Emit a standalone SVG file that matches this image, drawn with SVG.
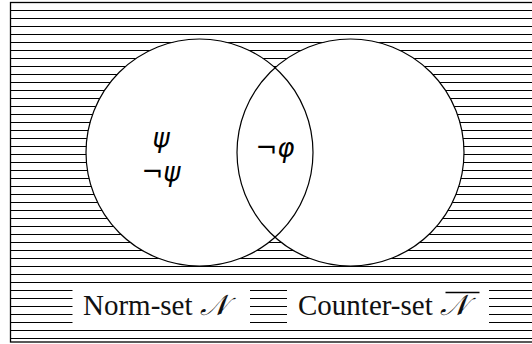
<svg xmlns="http://www.w3.org/2000/svg" width="532" height="344" viewBox="0 0 532 344">
<style>
.hatch line{stroke:#000;stroke-width:1}
.set{fill:#fff;stroke:none}
.ring{fill:none;stroke:#000;stroke-width:1.2}
.lab{font-family:"Liberation Serif","DejaVu Serif",serif;font-size:29px;fill:#111}
.sym{font-family:"DejaVu Sans","Noto Sans",sans-serif;font-style:italic;font-size:26px;fill:#000}
.box{fill:#fff;stroke:none}
</style>
<rect x="0" y="0" width="532" height="344" fill="#fff"/>
<g id="hatching" class="hatch">
<line x1="10" y1="2.5" x2="532" y2="2.5"/><line x1="10" y1="10.5" x2="532" y2="10.5"/><line x1="10" y1="18.5" x2="532" y2="18.5"/><line x1="10" y1="26.5" x2="532" y2="26.5"/><line x1="10" y1="34.5" x2="532" y2="34.5"/><line x1="10" y1="42.5" x2="532" y2="42.5"/><line x1="10" y1="50.5" x2="532" y2="50.5"/><line x1="10" y1="58.5" x2="532" y2="58.5"/><line x1="10" y1="66.5" x2="532" y2="66.5"/><line x1="10" y1="74.5" x2="532" y2="74.5"/><line x1="10" y1="82.5" x2="532" y2="82.5"/><line x1="10" y1="90.5" x2="532" y2="90.5"/><line x1="10" y1="98.5" x2="532" y2="98.5"/><line x1="10" y1="106.5" x2="532" y2="106.5"/><line x1="10" y1="114.5" x2="532" y2="114.5"/><line x1="10" y1="122.5" x2="532" y2="122.5"/><line x1="10" y1="130.5" x2="532" y2="130.5"/><line x1="10" y1="138.5" x2="532" y2="138.5"/><line x1="10" y1="146.5" x2="532" y2="146.5"/><line x1="10" y1="154.5" x2="532" y2="154.5"/><line x1="10" y1="162.5" x2="532" y2="162.5"/><line x1="10" y1="170.5" x2="532" y2="170.5"/><line x1="10" y1="178.5" x2="532" y2="178.5"/><line x1="10" y1="186.5" x2="532" y2="186.5"/><line x1="10" y1="194.5" x2="532" y2="194.5"/><line x1="10" y1="202.5" x2="532" y2="202.5"/><line x1="10" y1="210.5" x2="532" y2="210.5"/><line x1="10" y1="218.5" x2="532" y2="218.5"/><line x1="10" y1="226.5" x2="532" y2="226.5"/><line x1="10" y1="234.5" x2="532" y2="234.5"/><line x1="10" y1="242.5" x2="532" y2="242.5"/><line x1="10" y1="250.5" x2="532" y2="250.5"/><line x1="10" y1="258.5" x2="532" y2="258.5"/><line x1="10" y1="266.5" x2="532" y2="266.5"/><line x1="10" y1="274.5" x2="532" y2="274.5"/><line x1="10" y1="282.5" x2="532" y2="282.5"/><line x1="10" y1="290.5" x2="532" y2="290.5"/><line x1="10" y1="298.5" x2="532" y2="298.5"/><line x1="10" y1="306.5" x2="532" y2="306.5"/><line x1="10" y1="314.5" x2="532" y2="314.5"/><line x1="10" y1="322.5" x2="532" y2="322.5"/><line x1="10" y1="330.5" x2="532" y2="330.5"/><line x1="10" y1="338.5" x2="532" y2="338.5"/>
</g>
<rect id="frame" x="10.5" y="2.5" width="530" height="339.5" fill="none" stroke="#000" stroke-width="1.3"/>
<g id="norm-set">
<circle class="set" cx="199.5" cy="152.5" r="113.5"/>
</g>
<g id="counter-set">
<circle class="set" cx="350.5" cy="152.5" r="113.5"/>
</g>
<g id="rings">
<circle class="ring" cx="199.5" cy="152.5" r="113.5"/>
<circle class="ring" cx="350.5" cy="152.5" r="113.5"/>
</g>
<g id="psi"><text class="sym" x="161" y="147" text-anchor="middle">ψ</text></g>
<g id="not-psi"><text class="sym" x="161" y="181" text-anchor="middle">¬ψ</text></g>
<g id="not-phi"><text class="sym" x="275" y="157" text-anchor="middle">¬φ</text></g>
<g id="norm-label">
<rect class="box" x="72.5" y="284" width="177.5" height="41"/>
<text class="lab" x="83" y="315">Norm-set <tspan font-style="italic">𝒩</tspan></text>
</g>
<g id="counter-label">
<rect class="box" x="287" y="284" width="202" height="41"/>
<text class="lab" x="298" y="315">Counter-set <tspan font-style="italic">𝒩</tspan></text>
<line x1="445.5" y1="292.5" x2="479.5" y2="292.5" stroke="#000" stroke-width="1.3"/>
</g>
</svg>
